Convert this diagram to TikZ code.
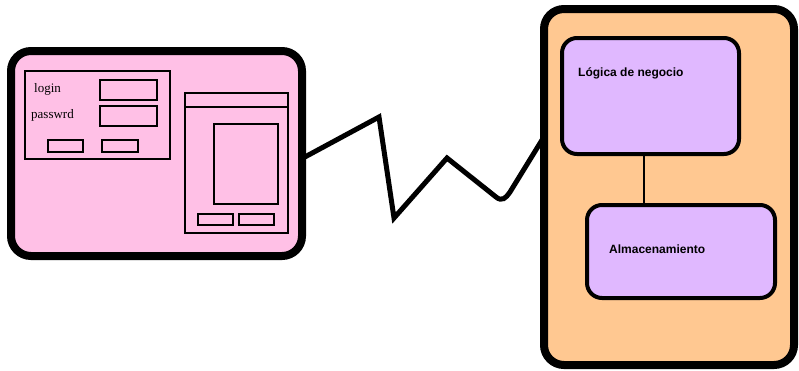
\documentclass[tikz,border=0pt]{standalone}
\usepackage{fontspec}
\setmainfont{Liberation Serif}
\newfontfamily\arialfont{Liberation Sans}
\definecolor{pinkfill}{RGB}{255,192,230}
\definecolor{orangefill}{RGB}{255,200,145}
\definecolor{purplefill}{RGB}{224,184,255}
\begin{document}
\begin{tikzpicture}[x=1pt,y=-1pt,
  bigbox/.style={draw=black,line width=8pt,rounded corners=20pt},
  compbox/.style={draw=black,line width=4pt,rounded corners=15pt,fill=purplefill},
  thinbox/.style={draw=black,line width=2.2pt},
  serifl/.style={font=\fontsize{13}{15}\selectfont,anchor=west,inner sep=0pt},
  sansl/.style={font=\arialfont\bfseries\fontsize{12}{14}\selectfont,anchor=west,inner sep=0pt}]
\useasboundingbox (0,0) rectangle (799,370);
% client
\draw[bigbox,fill=pinkfill] (11,51) rectangle (302,256);
\coordinate (clientE) at (303,158);
\draw[thinbox] (25,71) rectangle (170,159);
\node[serifl] (login) at (34,89) {login};
\node[serifl] (pass) at (31,115) {passwrd};
\draw[thinbox] (100,80) rectangle (157,100);
\draw[thinbox] (100,106) rectangle (157,126);
\draw[thinbox] (48,140) rectangle (83,152);
\draw[thinbox] (102,140) rectangle (138,152);
\draw[thinbox] (185,93) rectangle (288,233);
\draw[thinbox] (185,107) -- (288,107);
\draw[thinbox] (214,124) rectangle (278,204);
\draw[thinbox] (198,214) rectangle (233,225);
\draw[thinbox] (239,214) rectangle (274,225);
% server
\draw[bigbox,fill=orangefill] (544,9) rectangle (794,365);
\coordinate (serverW) at (542,140);
\node[compbox,minimum width=177pt,minimum height=116pt] (logic) at (650.5,96) {};
\node[sansl] at (578,73) {Lógica de negocio};
\node[compbox,minimum width=188pt,minimum height=93pt] (store) at (681,251.5) {};
\node[sansl] at (609,249) {Almacenamiento};
\draw[line width=2pt] (logic.south -| 644,0) -- (store.north -| 644,0);
% link
\draw[line width=5pt,line join=miter] (clientE) -- (379,117) -- (394,218) -- (447,158) -- (496,197) .. controls (502,202) and (506,198) .. (510,192) -- (serverW);
\end{tikzpicture}
\end{document}
